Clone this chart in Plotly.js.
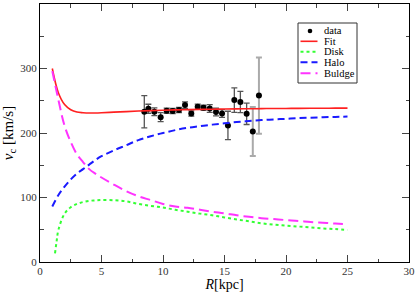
<!DOCTYPE html>
<html><head><meta charset="utf-8">
<script src="https://cdn.plot.ly/plotly-3.0.1.min.js"></script>
<style>html,body{margin:0;padding:0;background:#fff}#c{width:415px;height:292px}</style>
</head><body><div id="c"></div>
<script>
// Observed rotation curve
const dataR = [8.48, 8.81, 9.3, 9.81, 10.3, 10.79, 11.3, 11.79, 12.3, 12.82, 13.3, 13.8, 14.31, 14.8, 15.28, 15.8, 16.29, 16.8];
const dataV = [233, 237.6, 233, 224.6, 234.5, 234, 235.5, 243.3, 230.3, 240.7, 239, 238, 232.4, 230.3, 211.7, 251, 248, 229.8];
const dataErr = [25, 7, 6, 7, 4, 4, 4, 5, 4, 4, 4, 6, 6, 6, 22, 19, 16.5, 16.6];
// Outer points with large uncertainties
const outerR = [17.3, 17.8];
const outerV = [202.4, 258];
const outerErr = [38, 59];

// Model curves
const modelR = [1, 1.5, 2, 2.5, 3, 3.5, 4, 4.5, 5, 6, 7, 8, 9, 10, 11, 12, 13, 14, 15, 16, 17, 18, 19, 20, 21, 22, 23, 24, 25];
const fitV = [300, 262, 244, 236, 232.5, 231.5, 231, 231, 231.3, 232.3, 233.2, 234, 234.7, 235.3, 235.8, 236.2, 236.6, 236.9, 237.2, 237.4, 237.6, 237.8, 238, 238.1, 238.2, 238.3, 238.4, 238.5, 238.6];
const haloV = [86, 104, 117, 128, 137, 144, 151, 158, 164, 173, 181, 189, 195, 200, 204.5, 208, 210.5, 213, 215, 217, 218.5, 220, 221, 222, 223, 223.8, 224.5, 225, 225.6];
const bulgeV = [296, 251, 211, 186, 167, 155, 144, 137, 131, 120, 110, 102, 96, 90, 86, 84, 81, 78, 75.5, 72.5, 70, 68, 66.5, 65, 63.7, 62, 60.8, 59.6, 58.5];
const diskR = [1.22, 1.35, 1.5, 2, 2.5, 3, 3.5, 4, 4.5, 5, 6, 7, 8, 9, 10, 11, 12, 13, 14, 15, 16, 17, 18, 19, 20, 21, 22, 23, 24, 25];
const diskV = [13.5, 32, 50, 75, 85, 90, 93, 94.8, 95.5, 96, 95.8, 94, 90, 87, 84.5, 81, 78, 75, 72.5, 69, 66, 63, 60, 58, 56.5, 55, 53.5, 52, 51, 49.7];

const seriesNames = ['data', 'Fit', 'Disk', 'Halo', 'Buldge'];

const serif = "Liberation Serif, Times New Roman, serif";
const styles = {
  Fit: {color: '#ff2020', width: 1.6},
  Disk: {color: '#33ff33', width: 2, dash: 'dot'},
  Halo: {color: '#1a1aff', width: 2, dash: '7px,4px'},
  Buldge: {color: '#ff33ff', width: 2, dash: '10px,5px'}
};
const traces = [
  {x: dataR, y: dataV, type: 'scatter', mode: 'markers', name: seriesNames[0],
   marker: {color: '#000', size: 6},
   error_y: {type: 'data', array: dataErr, visible: true, color: '#555', thickness: 1.3, width: 3}},
  {x: outerR, y: outerV, type: 'scatter', mode: 'markers', name: seriesNames[0],
   marker: {color: '#000', size: 6},
   error_y: {type: 'data', array: outerErr, visible: true, color: '#aaa', thickness: 2, width: 3}},
  {x: modelR, y: fitV, type: 'scatter', mode: 'lines', name: seriesNames[1], line: Object.assign({shape: 'spline'}, styles.Fit)},
  {x: diskR, y: diskV, type: 'scatter', mode: 'lines', name: seriesNames[2], line: Object.assign({shape: 'spline'}, styles.Disk)},
  {x: modelR, y: haloV, type: 'scatter', mode: 'lines', name: seriesNames[3], line: Object.assign({shape: 'spline'}, styles.Halo)},
  {x: modelR, y: bulgeV, type: 'scatter', mode: 'lines', name: seriesNames[4], line: Object.assign({shape: 'spline'}, styles.Buldge)}
];

// Plot area geometry in pixels (for the hand-made legend box)
const W = 415, H = 292, mL = 40, mR = 6, mT = 4, mB = 30;
const pw = W - mL - mR, ph = H - mT - mB;
const px = v => (v - mL) / pw;
const py = v => (H - mB - v) / ph;

const shapes = [], annotations = [];
shapes.push({type: 'rect', xref: 'paper', yref: 'paper', x0: px(298), x1: px(357), y0: py(23), y1: py(83),
  line: {color: '#333', width: 1}, fillcolor: '#fff', layer: 'above'});
const rowY = [31, 41.3, 51.7, 62.3, 73.3];
seriesNames.forEach((name, i) => {
  const yy = rowY[i];
  if (i === 0) {
    shapes.push({type: 'circle', xref: 'paper', yref: 'paper', x0: px(307.7), x1: px(312.3), y0: py(yy + 2.3), y1: py(yy - 2.3),
      fillcolor: '#000', line: {color: '#000', width: 0}, layer: 'above'});
  } else {
    shapes.push({type: 'line', xref: 'paper', yref: 'paper', x0: px(300.5), x1: px(317.5), y0: py(yy), y1: py(yy),
      line: styles[name], layer: 'above'});
  }
  annotations.push({xref: 'paper', yref: 'paper', x: px(321.5), y: py(yy), xanchor: 'left', yanchor: 'middle',
    text: name, showarrow: false, font: {family: serif, size: 10.5, color: '#000'}});
});

const axisCommon = {
  showline: true, linecolor: '#000', linewidth: 1, mirror: 'ticks',
  ticks: 'inside', ticklen: 7, tickwidth: 1, tickcolor: '#444',
  showgrid: false, zeroline: false,
  tickfont: {family: serif, size: 11, color: '#333'}
};
const layout = {
  width: W, height: H,
  margin: {l: mL, r: mR, t: mT, b: mB},
  paper_bgcolor: '#fff', plot_bgcolor: '#fff',
  showlegend: false,
  shapes: shapes, annotations: annotations,
  xaxis: Object.assign({}, axisCommon, {
    range: [0, 30], tickvals: [0, 5, 10, 15, 20, 25, 30], ticklabelstandoff: -1,
    minor: {dtick: 2.5, ticks: 'inside', ticklen: 3.5, tickcolor: '#444', showgrid: false},
    title: {text: '<i>R</i>[kpc]', font: {family: serif, size: 14, color: '#000'}, standoff: 7}
  }),
  yaxis: Object.assign({}, axisCommon, {
    range: [0, 400], tickvals: [0, 100, 200, 300, 400],
    minor: {dtick: 50, ticks: 'inside', ticklen: 3.5, tickcolor: '#444', showgrid: false},
    title: {text: '<i>v</i><sub>c</sub> [km/s]', font: {family: serif, size: 15, color: '#000'}, standoff: 4}
  })
};
Plotly.newPlot('c', traces, layout, {staticPlot: true, displayModeBar: false});
</script></body></html>
